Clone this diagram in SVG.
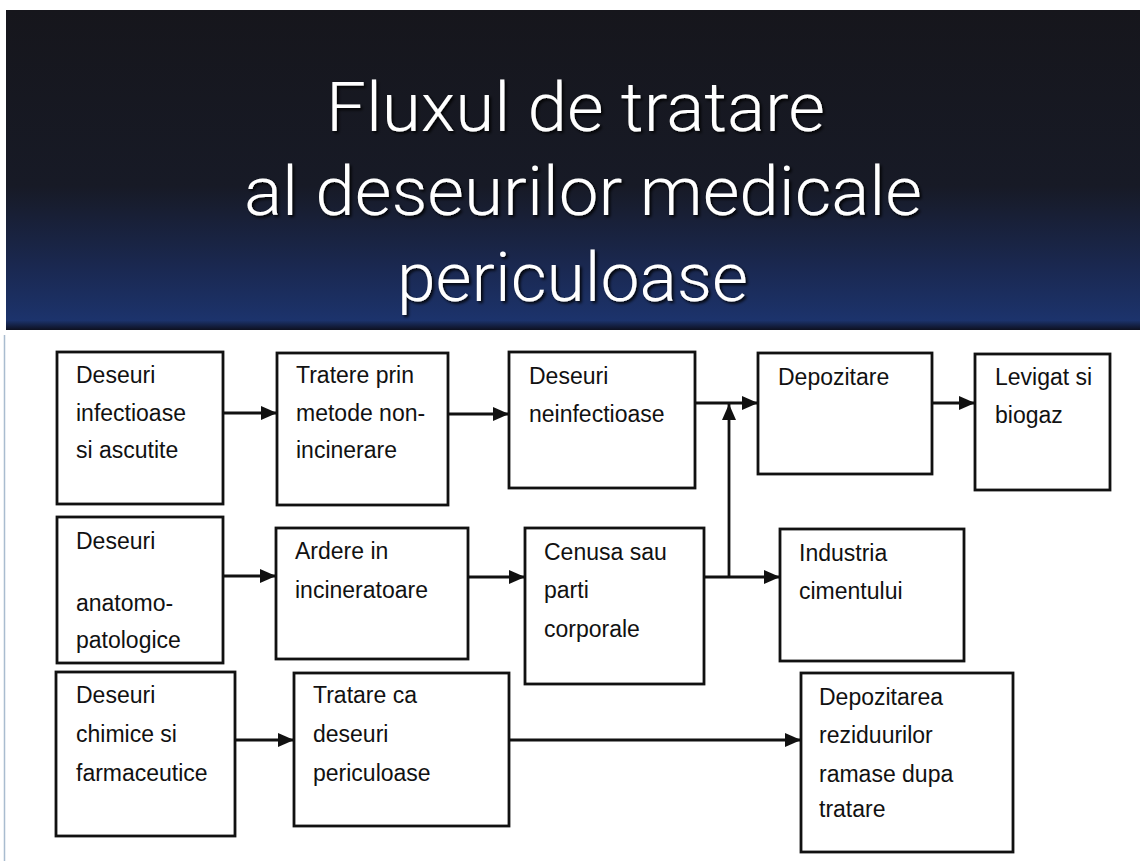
<svg xmlns="http://www.w3.org/2000/svg" width="1140" height="861" viewBox="0 0 1140 861">
<defs>
<linearGradient id="bg" x1="0" y1="0" x2="0" y2="1">
<stop offset="0" stop-color="#16161c"/>
<stop offset="0.55" stop-color="#171a26"/>
<stop offset="0.8" stop-color="#1a2850"/>
<stop offset="0.97" stop-color="#1c336c"/>
<stop offset="1" stop-color="#0d1020"/>
</linearGradient>
<filter id="sh" x="-5%" y="-20%" width="110%" height="140%">
<feDropShadow dx="2" dy="2" stdDeviation="1.5" flood-color="#000" flood-opacity="0.9"/>
</filter>
<marker id="ah" markerUnits="userSpaceOnUse" markerWidth="17" markerHeight="15" refX="16" refY="7" orient="auto">
<path d="M0,0 L16,7 L0,14 z" fill="#111"/>
</marker>
</defs>
<style>
.box{fill:#fff;stroke:#111;stroke-width:2.8}
.t{font-family:"Liberation Sans",Arial,sans-serif;font-size:23px;fill:#111}
.title{font-family:Roboto,"Liberation Sans",sans-serif;font-weight:300;font-size:68px;fill:#fff}
.c{fill:none;stroke:#111;stroke-width:2.8;marker-end:url(#ah)}
</style>
<rect x="0" y="0" width="1140" height="861" fill="#fff"/>
<rect x="6" y="10" width="1134" height="320" fill="url(#bg)"/>
<line x1="4.5" y1="335" x2="4.5" y2="861" stroke="#a9bccf" stroke-width="1.5"/>
<g id="title" filter="url(#sh)">
<text class="title" x="326" y="131" textLength="499" lengthAdjust="spacingAndGlyphs">Fluxul de tratare</text>
<text class="title" x="244" y="215" textLength="678" lengthAdjust="spacingAndGlyphs">al deseurilor medicale</text>
<text class="title" x="397" y="301" textLength="351" lengthAdjust="spacingAndGlyphs">periculoase</text>
</g>
<g id="connectors">
<path class="c" d="M223,413 H277"/>
<path class="c" d="M448,414 H509"/>
<path class="c" d="M695,403 H758"/>
<path class="c" d="M932,403 H975"/>
<path class="c" d="M223,576 H276"/>
<path class="c" d="M468,577 H525"/>
<path class="c" d="M704,577 H780"/>
<path class="c" d="M729,577 V404"/>
<path class="c" d="M235,740 H294"/>
<path class="c" d="M509,740 H801"/>
</g>
<g id="n1"><rect class="box" x="57" y="352" width="166" height="152"/>
<text class="t" x="76" y="383">Deseuri</text><text class="t" x="76" y="421">infectioase</text><text class="t" x="76" y="458">si ascutite</text></g>
<g id="n2"><rect class="box" x="277" y="353" width="171" height="152"/>
<text class="t" x="296" y="383">Tratere prin</text><text class="t" x="296" y="421">metode non-</text><text class="t" x="296" y="458">incinerare</text></g>
<g id="n3"><rect class="box" x="509" y="352" width="186" height="136"/>
<text class="t" x="529" y="384">Deseuri</text><text class="t" x="529" y="422">neinfectioase</text></g>
<g id="n4"><rect class="box" x="758" y="353" width="174" height="121"/>
<text class="t" x="778" y="385">Depozitare</text></g>
<g id="n5"><rect class="box" x="975" y="354" width="135" height="136"/>
<text class="t" x="995" y="385">Levigat si</text><text class="t" x="995" y="423">biogaz</text></g>
<g id="n6"><rect class="box" x="57" y="517" width="166" height="146"/>
<text class="t" x="76" y="549">Deseuri</text><text class="t" x="76" y="611">anatomo-</text><text class="t" x="76" y="648">patologice</text></g>
<g id="n7"><rect class="box" x="276" y="528" width="192" height="131"/>
<text class="t" x="295" y="559">Ardere in</text><text class="t" x="295" y="598">incineratoare</text></g>
<g id="n8"><rect class="box" x="525" y="528" width="179" height="156"/>
<text class="t" x="544" y="560">Cenusa sau</text><text class="t" x="544" y="598">parti</text><text class="t" x="544" y="637">corporale</text></g>
<g id="n9"><rect class="box" x="780" y="529" width="184" height="132"/>
<text class="t" x="799" y="561">Industria</text><text class="t" x="799" y="599">cimentului</text></g>
<g id="n10"><rect class="box" x="56" y="672" width="179" height="164"/>
<text class="t" x="76" y="703">Deseuri</text><text class="t" x="76" y="742">chimice si</text><text class="t" x="76" y="781">farmaceutice</text></g>
<g id="n11"><rect class="box" x="294" y="673" width="215" height="153"/>
<text class="t" x="313" y="703">Tratare ca</text><text class="t" x="313" y="742">deseuri</text><text class="t" x="313" y="781">periculoase</text></g>
<g id="n12"><rect class="box" x="801" y="673" width="212" height="179"/>
<text class="t" x="819" y="705">Depozitarea</text><text class="t" x="819" y="743">reziduurilor</text><text class="t" x="819" y="782">ramase dupa</text><text class="t" x="819" y="817">tratare</text></g>
</svg>
